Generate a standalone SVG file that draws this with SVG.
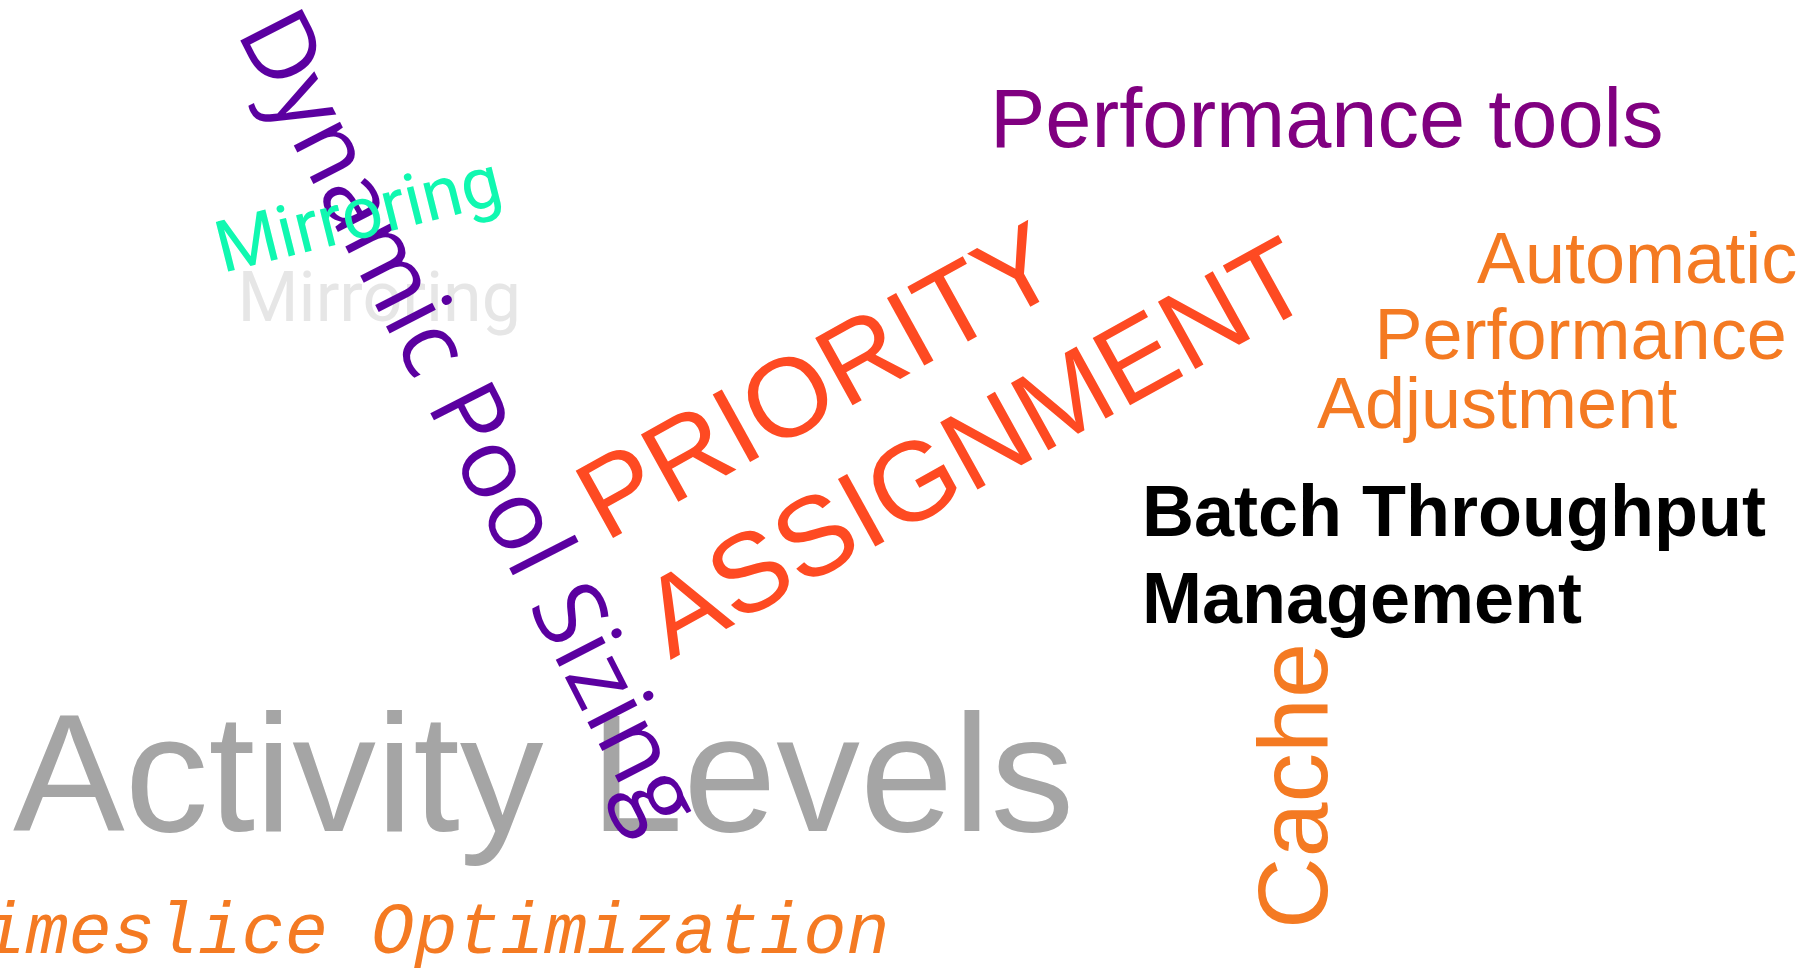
<svg xmlns="http://www.w3.org/2000/svg" width="1812" height="970" viewBox="0 0 1812 970">
  <style>
    .sans { font-family: "Liberation Sans", Arial, sans-serif; }
    .bold { font-family: "Liberation Sans", Arial, sans-serif; font-weight: bold; }
    .roboto { font-family: Roboto, "Liberation Sans", sans-serif; }
    .open { font-family: "Open Sans", "Noto Sans", sans-serif; }
    .mono { font-family: "Liberation Mono", "Courier New", monospace; font-style: italic; }
    .orange { fill: #f47a22; }
  </style>
  <rect width="1812" height="970" fill="#ffffff"/>
  <g id="activity-levels">
    <text class="sans" x="13" y="831" font-size="167.5" fill="#a5a5a5">Activity Levels</text>
  </g>
  <g id="mirroring-grey">
    <text class="roboto" x="237.5" y="320.7" font-size="70" fill="#e6e6e6">Mirroring</text>
  </g>
  <g id="dynamic-pool-sizing">
    <text class="open" x="236" y="32" font-size="97" fill="#5b00a0" transform="rotate(63 236 32)">Dynamic Pool Sizing</text>
  </g>
  <g id="mirroring-green">
    <text class="roboto" x="222.5" y="273" font-size="72" fill="#10f8b0" transform="rotate(-14 222.5 273)">Mirroring</text>
  </g>
  <g id="priority-assignment">
    <text class="sans" font-size="112" fill="#fe4a22" transform="rotate(-29 605 542.5)"><tspan x="605" y="542.5">PRIORITY</tspan><tspan x="605" y="676.9">ASSIGNMENT</tspan></text>
  </g>
  <g id="performance-tools">
    <text class="sans" x="990" y="147" font-size="83" fill="#800080">Performance tools</text>
  </g>
  <g id="automatic-performance-adjustment">
    <text class="sans orange" font-size="72"><tspan x="1477" y="282.7">Automatic</tspan><tspan x="1374.5" y="359.3">Performance</tspan><tspan x="1317" y="428.3">Adjustment</tspan></text>
  </g>
  <g id="batch-throughput-management">
    <text class="bold" font-size="72" fill="#000000"><tspan x="1142" y="536">Batch Throughput</tspan><tspan x="1142" y="623">Management</tspan></text>
  </g>
  <g id="cache">
    <text class="sans orange" x="1327" y="929" font-size="99" transform="rotate(-90 1327 929)">Cache</text>
  </g>
  <g id="timeslice-optimization">
    <text class="mono orange" x="-61" y="953" font-size="72">Timeslice Optimization</text>
  </g>
</svg>
